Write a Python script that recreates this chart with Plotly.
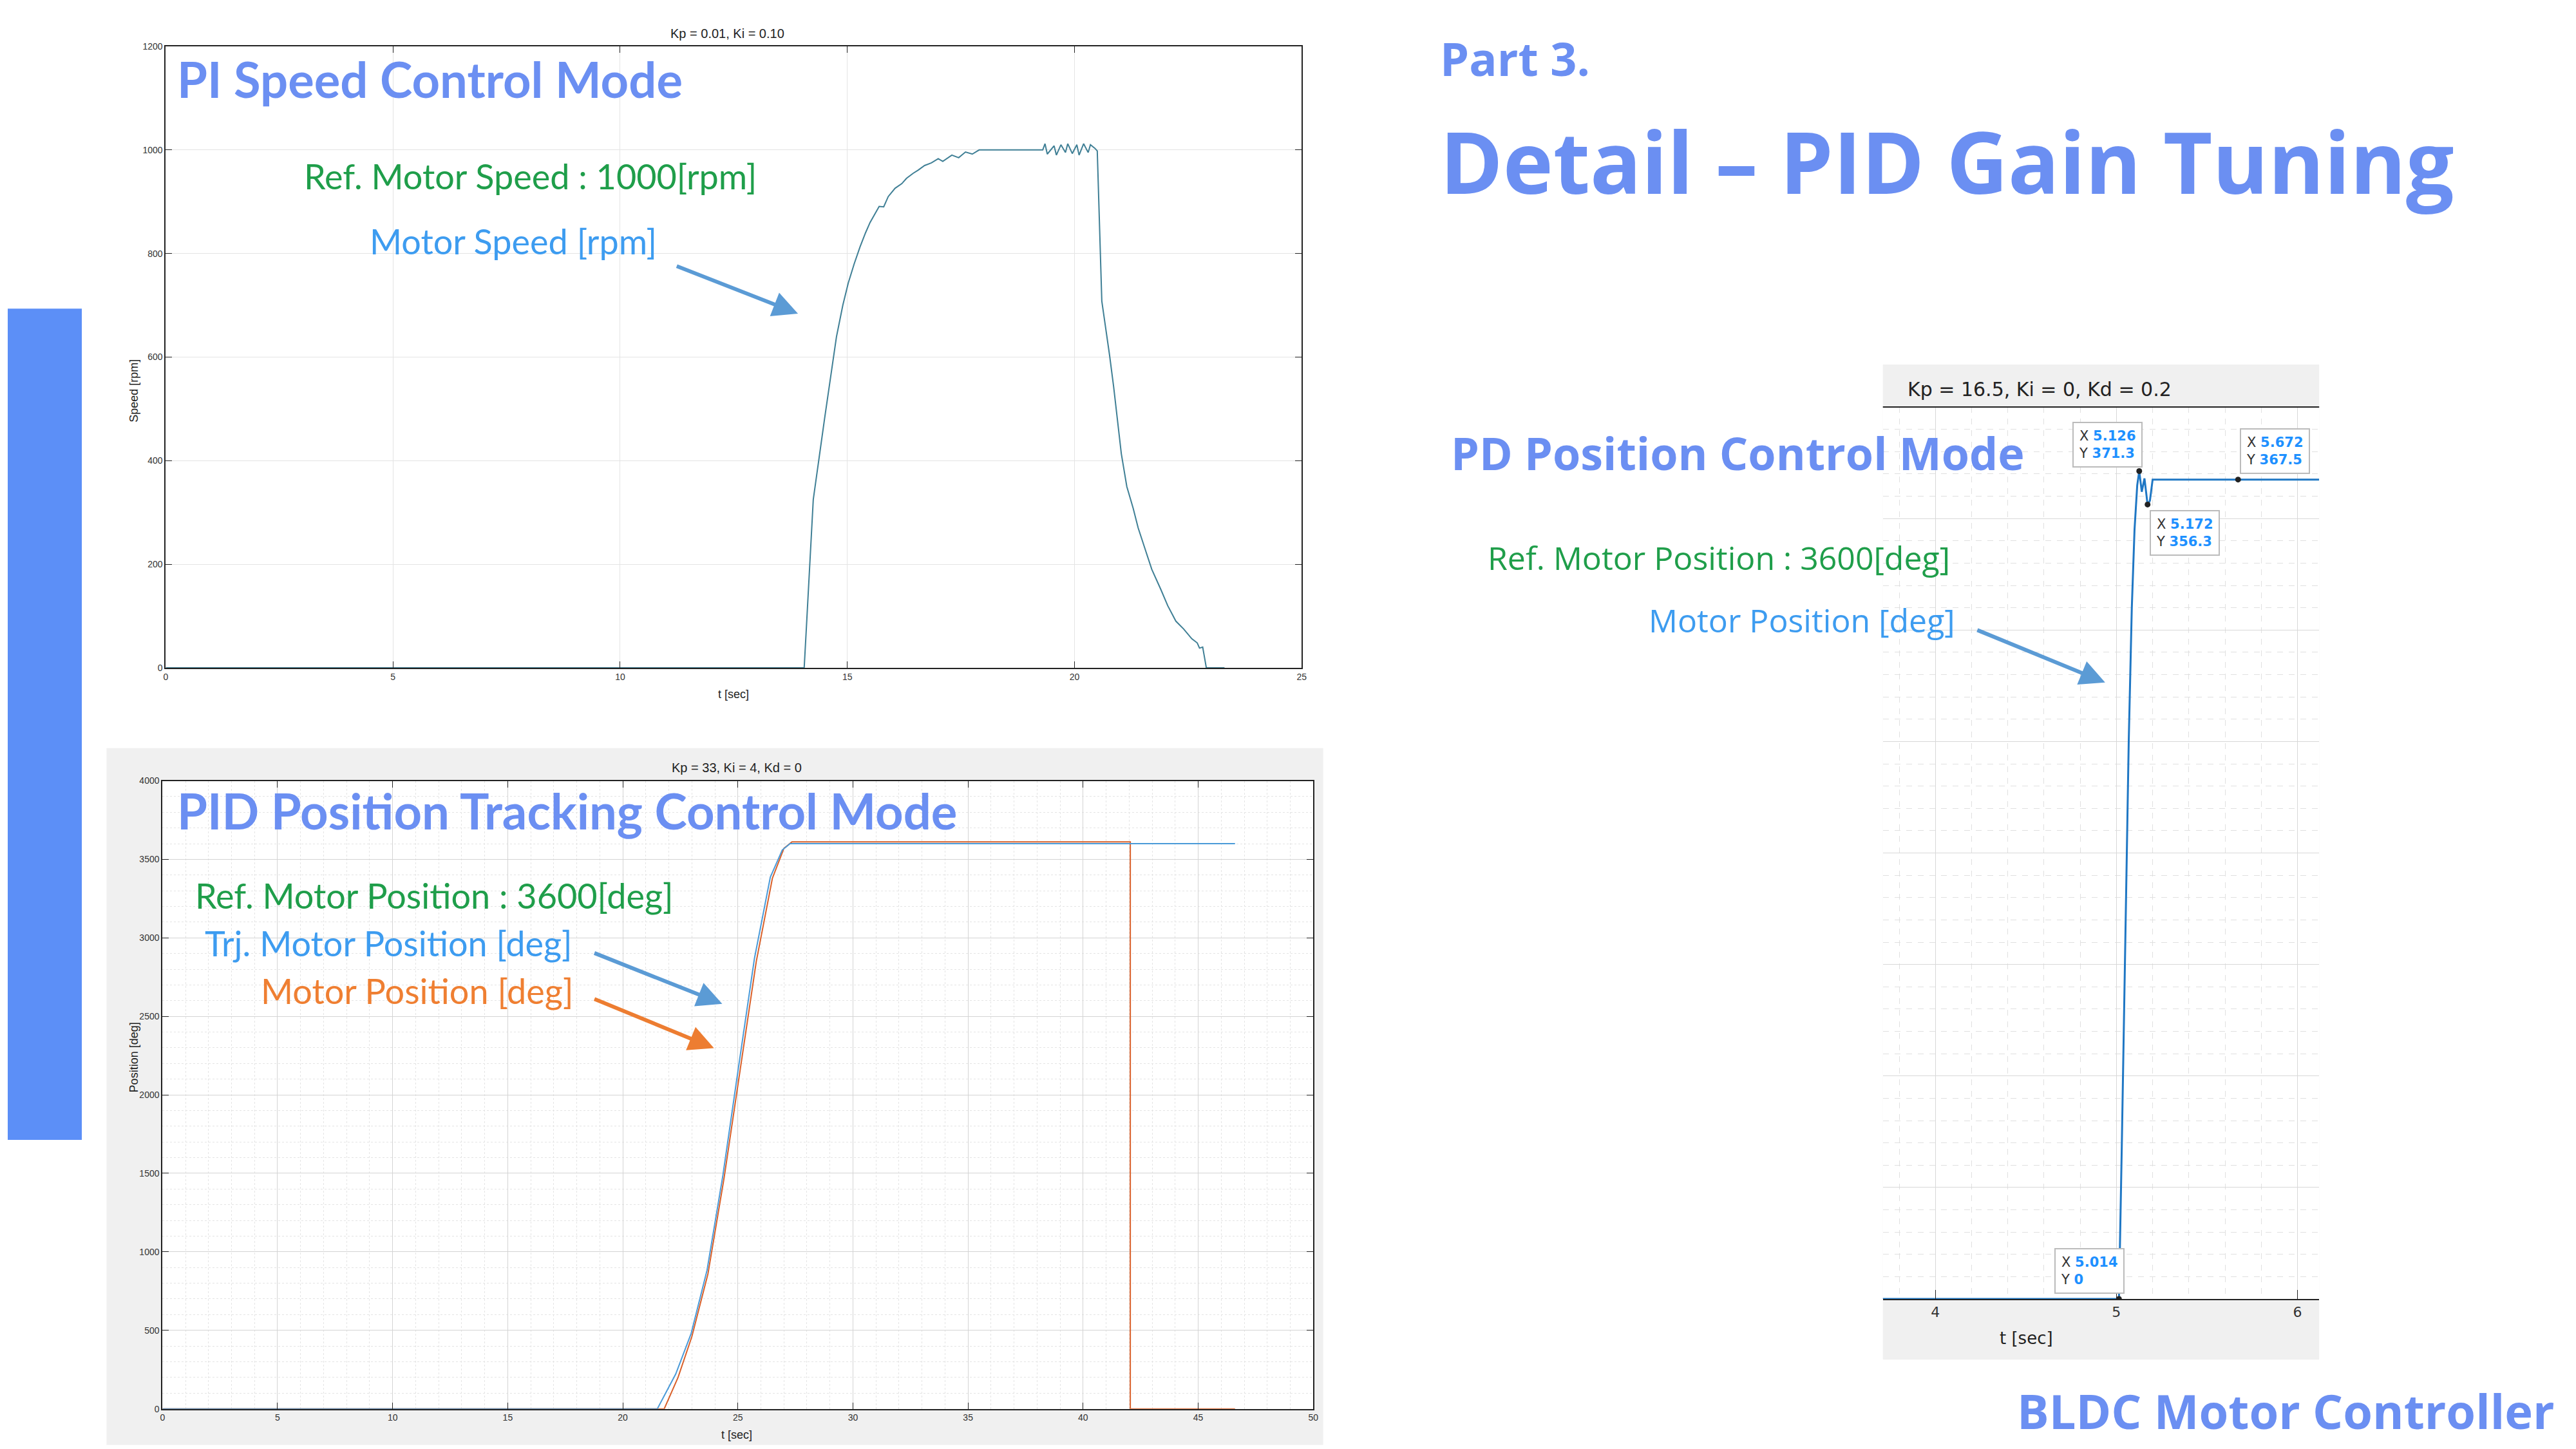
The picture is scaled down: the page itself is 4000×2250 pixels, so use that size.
import plotly.graph_objects as go

# ---- data ----
speed_t = [0, 14.05, 14.1, 14.25, 14.5, 14.76, 14.9, 15.02, 15.15, 15.28, 15.4, 15.5, 15.7, 15.8, 15.9,
           16.05, 16.2, 16.3, 16.45, 16.56, 16.7, 16.85, 17.0, 17.1, 17.3, 17.45, 17.6, 17.75, 17.9, 18.5,
           19.3, 19.35, 19.4, 19.55, 19.6, 19.7, 19.8, 19.85, 19.95, 20.05, 20.1, 20.2, 20.3, 20.35, 20.45,
           20.5, 20.6, 20.77, 20.86, 21.03, 21.15, 21.29, 21.4, 21.55, 21.7, 21.9, 22.05, 22.23, 22.4, 22.58,
           22.7, 22.75, 22.82, 22.9, 23.3]
speed_rpm = [0, 0, 80, 325, 482, 639, 700, 743, 780, 813, 840, 860, 891, 890, 910,
             926, 935, 945, 955, 961, 970, 975, 983, 978, 990, 985, 996, 992, 1000, 1000,
             1000, 1012, 992, 1008, 990, 1010, 995, 1012, 993, 1010, 990, 1012, 995, 1010, 1003,
             998, 708, 604, 543, 413, 350, 308, 270, 230, 190, 151, 120, 90, 75, 56,
             48, 38, 40, 0, 0]

trj_t = [0, 21.5, 22.3, 22.97, 23.66, 24.35, 25.03, 25.72, 26.41, 26.93, 27.27, 46.6]
trj_pos = [0, 0, 222, 480, 883, 1488, 2178, 2869, 3387, 3560, 3600, 3600]
mot_t = [0, 21.8, 22.4, 23.0, 23.7, 24.4, 25.1, 25.8, 26.5, 27.0, 27.35, 42.05, 42.05, 46.6]
mot_pos = [0, 0, 200, 460, 860, 1470, 2160, 2850, 3380, 3570, 3612, 3612, 0, 0]

pd_t = [3.7, 5.014, 5.03, 5.05, 5.068, 5.085, 5.1, 5.115, 5.126, 5.14, 5.155, 5.172, 5.185, 5.2, 5.672, 6.12]
pd_pos = [0, 0, 70, 170, 250, 310, 345, 365, 371.3, 362, 368, 356.3, 358, 367.5, 367.5, 367.5]
tip_t = [5.014, 5.126, 5.172, 5.672]
tip_pos = [0, 371.3, 356.3, 367.5]

TITLE_BLUE = "#6b8ff2"
GREEN = "#1f9e4a"
TXT_BLUE = "#3d9cf0"
ORANGE = "#ef7f32"
W, H = 1560.0, 877.5  # slide units


def px(x):
    return (x - 4) / W


def py(y):
    return 1 - (y - 5) / H


fig = go.Figure()
fig.add_trace(go.Scatter(x=speed_t, y=speed_rpm, mode="lines", line=dict(color="#3f7f95", width=2),
                         xaxis="x", yaxis="y"))
fig.add_trace(go.Scatter(x=mot_t, y=mot_pos, mode="lines", line=dict(color="#d9602a", width=2),
                         xaxis="x2", yaxis="y2"))
fig.add_trace(go.Scatter(x=trj_t, y=trj_pos, mode="lines", line=dict(color="#4a9ad8", width=2),
                         xaxis="x2", yaxis="y2"))
fig.add_trace(go.Scatter(x=pd_t, y=pd_pos, mode="lines", line=dict(color="#1f77c4", width=3),
                         xaxis="x3", yaxis="y3"))
fig.add_trace(go.Scatter(x=tip_t, y=tip_pos, mode="markers", marker=dict(color="#222", size=9),
                         xaxis="x3", yaxis="y3"))

small = dict(family="Liberation Sans", size=14, color="#333")
frame = dict(showline=True, linecolor="#222", linewidth=2, mirror="ticks", ticks="inside",
             ticklen=10, tickcolor="#222", zeroline=False, tickfont=small)

layout = dict(
    width=4000, height=2250, showlegend=False, paper_bgcolor="white", plot_bgcolor="white",
    margin=dict(l=0, r=0, t=0, b=0),
    xaxis=dict(frame, domain=[px(100), px(790)], range=[0, 25], dtick=5, anchor="y",
               showgrid=True, gridcolor="#e4e4e4"),
    yaxis=dict(frame, domain=[py(406), py(27)], range=[0, 1200], dtick=200, anchor="x",
               showgrid=True, gridcolor="#e4e4e4"),
    xaxis2=dict(frame, domain=[px(98), px(797)], range=[0, 50], dtick=5, anchor="y2",
                showgrid=True, gridcolor="#d4d4d4",
                minor=dict(dtick=1, showgrid=True, gridcolor="#e4e4e4", griddash="dot")),
    yaxis2=dict(frame, domain=[py(858), py(475)], range=[0, 4000], dtick=500, anchor="x2",
                showgrid=True, gridcolor="#d4d4d4",
                minor=dict(dtick=100, showgrid=True, gridcolor="#e4e4e4", griddash="dot")),
    xaxis3=dict(domain=[px(1143), px(1408)], range=[3.71, 6.12], dtick=1, anchor="y3",
                showline=True, linecolor="#222", linewidth=2, ticks="inside", ticklen=14,
                tickcolor="#222", zeroline=False, showgrid=True, gridcolor="#d8d8d8",
                tickfont=dict(family="DejaVu Sans", size=22, color="#333"),
                minor=dict(dtick=0.2, showgrid=True, gridcolor="#e0e0e0", griddash="dash")),
    yaxis3=dict(domain=[py(791), py(247)], range=[0, 400], dtick=50, anchor="x3",
                showticklabels=False, showline=False, zeroline=False, showgrid=True,
                gridcolor="#d8d8d8",
                minor=dict(dtick=10, showgrid=True, gridcolor="#e0e0e0", griddash="dash")),
)
fig.update_layout(**layout)


def rect(x0, y0, x1, y1, color):
    return dict(type="rect", xref="paper", yref="paper", x0=px(x0), x1=px(x1), y0=py(y1), y1=py(y0),
                fillcolor=color, line_width=0, layer="below")


shapes = [
    rect(64, 455, 803, 880, "#f0f0f0"),
    rect(98, 475, 797, 858, "white"),
    rect(1143, 221, 1408, 828, "#f0f0f0"),
    rect(1143, 247, 1408, 791, "white"),
    dict(type="line", xref="paper", yref="paper", x0=px(1143), x1=px(1408), y0=py(247), y1=py(247),
         line=dict(color="#222", width=2)),
    dict(type="rect", xref="paper", yref="paper", x0=0, x1=px(49), y0=py(694), y1=py(187),
         fillcolor="#5c8ff7", line_width=0),
]
fig.update_layout(shapes=shapes)


def note(x, y, text, size, color, bold=False, font="Lato", xanchor="left"):
    t = f"<b>{text}</b>" if bold else text
    fig.add_annotation(x=px(x), y=py(y), xref="paper", yref="paper", text=t, showarrow=False,
                       xanchor=xanchor, yanchor="middle", font=dict(family=font, size=size, color=color))


def arrow(x0, y0, x1, y1, color):
    fig.add_annotation(x=px(x1), y=py(y1), xref="paper", yref="paper", text="", showarrow=True,
                       ax=(x0 - x1) * 2.564, ay=(y0 - y1) * 2.564, arrowhead=2, arrowsize=1.3,
                       arrowwidth=6, arrowcolor=color)


# slide headings
note(873, 34, "Part 3.", 72, TITLE_BLUE, True, "Open Sans")
note(873, 97, "Detail – PID Gain Tuning", 132, TITLE_BLUE, True, "Open Sans")
note(1552, 859, "BLDC Motor Controller", 74, TITLE_BLUE, True, "Open Sans", "right")

# top chart
note(441, 19, "Kp = 0.01, Ki = 0.10", 20, "#222", font="Liberation Sans", xanchor="center")
note(445, 422, "t [sec]", 18, "#222", font="Liberation Sans", xanchor="center")
fig.add_annotation(x=px(76), y=py(217), xref="paper", yref="paper", text="Speed [rpm]", showarrow=False,
                   textangle=-90, font=dict(family="Liberation Sans", size=18, color="#222"))
note(106, 47, "PI Speed Control Mode", 76, TITLE_BLUE, True)
note(183, 106, "Ref. Motor Speed : 1000[rpm]", 54, GREEN)
note(223, 146, "Motor Speed [rpm]", 54, TXT_BLUE)
arrow(410, 161, 484, 190, "#5b9bd5")

# bottom chart
note(447, 467, "Kp = 33, Ki = 4, Kd = 0", 20, "#222", font="Liberation Sans", xanchor="center")
note(447, 874, "t [sec]", 18, "#222", font="Liberation Sans", xanchor="center")
fig.add_annotation(x=px(76), y=py(666), xref="paper", yref="paper", text="Position [deg]", showarrow=False,
                   textangle=-90, font=dict(family="Liberation Sans", size=18, color="#222"))
note(106, 493, "PID Position Tracking Control Mode", 76, TITLE_BLUE, True)
note(117, 545, "Ref. Motor Position : 3600[deg]", 54, GREEN)
note(123, 574, "Trj. Motor Position [deg]", 54, TXT_BLUE)
note(157, 603, "Motor Position [deg]", 54, ORANGE)
arrow(360, 580, 438, 611, "#5b9bd5")
arrow(360, 608, 433, 638, "#ed7d31")

# right chart
note(1157, 236, "Kp = 16.5, Ki = 0, Kd = 0.2", 30, "#222", font="DejaVu Sans")
note(1230, 815, "t [sec]", 26, "#222", font="DejaVu Sans", xanchor="center")
note(880, 275, "PD Position Control Mode", 70, TITLE_BLUE, True, "Open Sans")
note(902, 339, "Ref. Motor Position : 3600[deg]", 50, GREEN, font="Open Sans")
note(1000, 377, "Motor Position [deg]", 50, TXT_BLUE, font="Open Sans")
arrow(1200, 383, 1278, 415, "#5b9bd5")

tip_box = [(1247, 760), (1258, 256), (1305, 310), (1360, 260)]
for (x0, y0), tx, ty in zip(tip_box, tip_t, tip_pos):
    ystr = "0" if ty == 0 else f"{ty:.1f}"
    fig.add_annotation(x=px(x0), y=py(y0), xref="paper", yref="paper", xanchor="left", yanchor="top",
                       showarrow=False, align="left", bgcolor="white", bordercolor="#bbb", borderwidth=2,
                       borderpad=8,
                       text=f"X <b><span style='color:#1e90ff'>{tx:.3f}</span></b><br>"
                            f"Y <b><span style='color:#1e90ff'>{ystr}</span></b>",
                       font=dict(family="DejaVu Sans", size=21, color="#333"))

fig.write_html("out.html")
